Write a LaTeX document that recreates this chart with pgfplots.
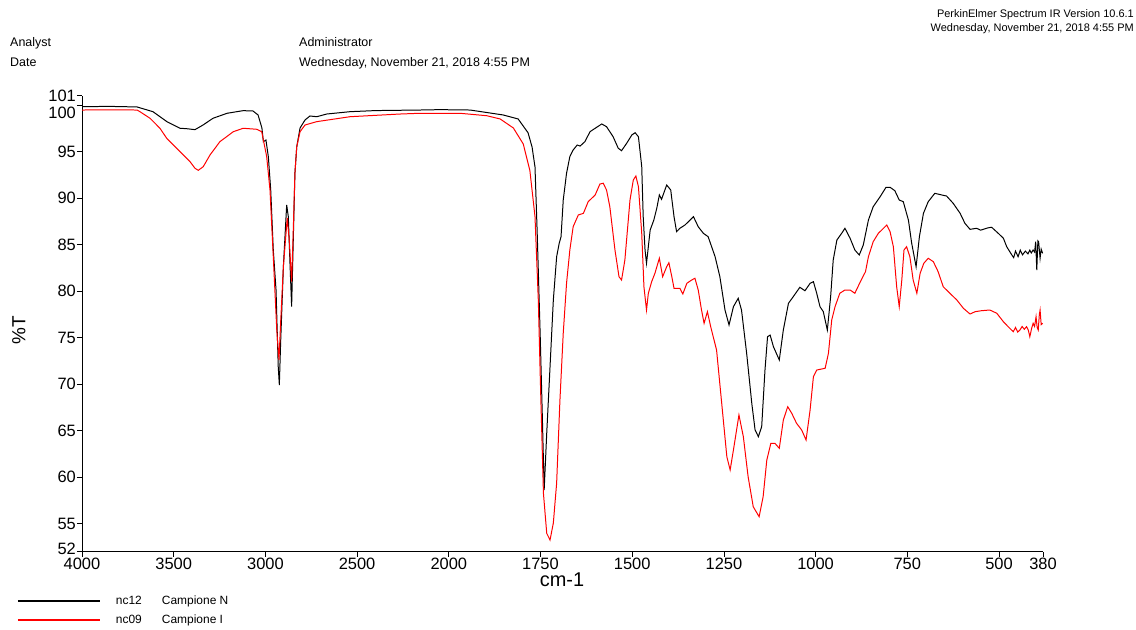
\documentclass[border=0pt]{standalone}
\usepackage{fontspec}
\setmainfont{Liberation Sans}
\usepackage{pgfplots}
\pgfplotsset{compat=1.18}

% wavenumber axis: 4000-2000 at one scale, 2000-380 expanded twice
\newcommand{\irx}{\thisrow{wn}>=2000 ? 4000-\thisrow{wn} : 6000-2*\thisrow{wn}}

\begin{document}
\begin{tikzpicture}[x=1bp,y=1bp]
\path (0,0) rectangle (1136,630);

% header
\node[anchor=base west,inner sep=0pt,font=\fontsize{12.5}{14}\selectfont] at (10,583.5) {Analyst};
\node[anchor=base west,inner sep=0pt,font=\fontsize{12.5}{14}\selectfont] at (10,563) {Date};
\node[anchor=base west,inner sep=0pt,font=\fontsize{12.5}{14}\selectfont] at (299,583.5) {Administrator};
\node[anchor=base west,inner sep=0pt,font=\fontsize{12.5}{14}\selectfont] at (299,563) {Wednesday, November 21, 2018 4:55 PM};
\node[anchor=base east,inner sep=0pt,font=\fontsize{11}{13}\selectfont] at (1134,612) {PerkinElmer Spectrum IR Version 10.6.1};
\node[anchor=base east,inner sep=0pt,font=\fontsize{11}{13}\selectfont] at (1134,598) {Wednesday, November 21, 2018 4:55 PM};

\begin{axis}[
  at={(82bp,78.3bp)}, anchor=south west,
  scale only axis, width=961bp, height=456bp,
  xmin=0, xmax=5240, ymin=52, ymax=101,
  axis lines=left, axis line style={-, line width=0.9pt},
  tick align=outside, major tick length=5bp,
  tick style={black, line width=0.8pt},
  xtick={0,500,1000,1500,2000,2500,3000,3500,4000,4500,5000,5240},
  xticklabels={4000,3500,3000,2500,2000,1750,1500,1250,1000,750,500,380},
  ytick={52,55,60,65,70,75,80,85,90,95,101},
  yticklabels={\raisebox{5.4bp}{52},55,60,65,70,75,80,85,90,95,101},
  extra y ticks={100}, extra y tick labels={100},
  extra y tick style={yticklabel style={yshift=-7.5bp}},
  ticklabel style={font=\fontsize{16.5}{18}\selectfont},
  xticklabel style={inner sep=1bp},
  yticklabel style={inner sep=1bp},
  xlabel={cm-1}, ylabel={\%T},
  every axis x label/.style={at={(axis description cs:0.4995,-0.062)}, anchor=center, font=\fontsize{20}{22}\selectfont},
  every axis y label/.style={at={(axis description cs:-0.0656,0.486)}, rotate=90, anchor=center, font=\fontsize{19}{21}\selectfont},
  legend style={at={(axis description cs:-0.071,-0.088)}, anchor=north west, draw=none, fill=none,
    font=\fontsize{12}{14}\selectfont, nodes={inner xsep=0pt, inner ysep=1.5bp}, column sep=15bp, row sep=6bp},
  legend cell align=left,
  legend image code/.code={\draw[#1, line width=2pt] (0bp,0bp) -- (82bp,0bp);},
]
\addplot[black, line width=1pt] table[x expr=\irx, y=T] {
wn T
4000 99.82
3850 99.85
3700 99.79
3613 99.28
3537 98.21
3466 97.50
3428 97.45
3384 97.35
3340 97.85
3286 98.57
3209 99.11
3122 99.39
3068 99.36
3040 98.93
3019 97.53
3011 96.06
2997 96.24
2984 94.45
2971 90.87
2957 84.42
2942 80.12
2930 71.88
2924 69.91
2917 74.43
2902 82.62
2884 89.26
2875 88.00
2866 83.02
2857 78.33
2848 85.49
2839 92.69
2829 95.52
2811 97.53
2784 98.39
2757 98.82
2720 98.74
2666 99.03
2539 99.28
2400 99.40
2157 99.46
2050 99.50
1942 99.46
1852 98.93
1811 98.50
1784 97.02
1773 95.49
1765 93.34
1759 86.25
1751 75.50
1745 66.51
1740 58.63
1733 64.75
1724 71.88
1715 79.05
1706 83.70
1699 85.14
1694 85.85
1688 89.79
1679 92.66
1670 94.45
1661 95.16
1650 95.70
1642 95.59
1629 96.06
1615 97.13
1597 97.60
1583 97.96
1570 97.67
1552 96.59
1538 95.35
1529 95.09
1515 95.89
1501 96.78
1492 97.02
1483 96.59
1474 93.37
1470 88.00
1465 84.42
1461 82.99
1451 86.57
1441 87.64
1433 88.90
1426 90.33
1420 89.87
1406 91.40
1395 90.87
1386 88.00
1379 86.39
1370 86.75
1356 87.11
1342 87.64
1333 88.00
1320 86.92
1306 86.21
1293 85.85
1274 83.70
1261 81.55
1247 77.97
1236 76.36
1224 78.33
1211 79.23
1202 77.97
1188 73.32
1174 67.95
1165 65.08
1156 64.36
1147 65.43
1138 71.52
1131 75.10
1124 75.28
1115 74.03
1099 72.60
1088 75.82
1074 78.69
1061 79.40
1043 80.41
1029 80.04
1015 80.84
1006 81.01
997 79.77
988 78.33
979 77.79
968 75.82
959 79.40
952 83.34
942 85.49
929 86.21
920 86.75
906 85.68
893 84.42
881 83.88
870 84.96
856 87.64
843 89.07
824 90.15
808 91.16
797 91.16
784 90.79
772 89.79
761 89.61
747 87.64
738 85.14
726 82.62
717 85.85
706 88.36
693 89.61
675 90.51
656 90.33
643 90.22
625 89.44
606 88.36
593 87.29
579 86.64
561 86.75
550 86.55
543 86.64
530 86.80
520 86.86
502 86.21
488 85.68
479 84.77
470 84.20
465 83.88
460 83.60
455 84.30
448 83.70
442 84.40
436 83.90
428 84.30
421 84.00
416 84.40
412 84.10
407 84.42
403 84.20
400 85.31
397 82.27
394 85.40
392 85.31
388 83.53
385 84.50
381 84.06
};
\addlegendentry{\makebox[46bp][l]{nc12}Campione N}
\addplot[red, line width=1pt] table[x expr=\irx, y=T] {
wn T
4000 99.46
3850 99.48
3700 99.46
3684 99.28
3629 98.57
3575 97.50
3538 96.42
3484 95.35
3438 94.45
3411 93.91
3384 93.20
3366 92.98
3339 93.37
3302 94.63
3248 96.06
3175 97.13
3121 97.50
3047 97.39
3020 97.13
3011 96.24
2993 94.45
2975 90.87
2957 83.70
2938 75.82
2926 72.60
2917 76.57
2902 82.62
2881 87.86
2870 85.49
2857 81.01
2848 86.57
2839 92.69
2829 95.52
2811 97.13
2784 97.85
2720 98.21
2539 98.74
2266 99.03
2157 99.11
1970 99.11
1897 98.85
1860 98.50
1824 97.53
1797 95.81
1779 92.96
1765 88.00
1756 79.05
1749 68.30
1742 58.27
1733 53.97
1724 53.26
1715 55.08
1706 59.38
1697 68.30
1688 75.47
1679 80.84
1670 84.42
1661 86.92
1647 88.18
1633 88.36
1620 89.61
1601 90.33
1588 91.51
1579 91.59
1570 90.87
1561 89.07
1547 84.42
1536 81.55
1529 81.19
1520 83.34
1506 89.79
1497 91.94
1490 92.37
1483 91.22
1474 86.21
1468 80.47
1461 77.97
1456 79.77
1447 81.01
1438 81.92
1426 83.53
1417 81.55
1406 82.62
1400 83.05
1392 81.55
1386 80.30
1370 80.30
1362 79.69
1351 80.84
1338 81.19
1329 81.38
1320 80.12
1311 77.97
1304 76.54
1295 77.79
1286 76.18
1270 73.67
1256 67.95
1242 62.21
1233 60.78
1224 62.93
1209 66.69
1197 64.36
1184 60.06
1170 56.83
1154 55.76
1143 57.91
1133 61.85
1122 63.65
1111 63.65
1099 63.11
1088 66.15
1076 67.58
1065 66.87
1052 65.80
1038 65.08
1026 64.00
1015 67.23
1006 70.80
997 71.52
974 71.71
965 73.32
956 76.90
947 78.33
934 79.77
920 80.12
906 80.12
893 79.77
878 81.01
864 82.09
856 83.70
843 85.31
829 86.21
815 86.75
806 87.11
797 86.39
788 84.77
779 80.47
772 78.33
765 81.19
759 84.42
752 84.77
743 83.70
734 81.19
724 79.77
715 81.92
705 82.99
693 83.53
679 83.16
666 82.09
652 80.47
634 79.77
615 79.05
597 78.15
579 77.54
565 77.79
547 77.90
525 77.97
506 77.62
488 76.71
475 76.18
468 75.90
461 75.64
455 76.10
449 75.60
443 75.82
437 76.20
431 75.90
425 76.18
420 75.80
416 75.10
411 76.00
407 76.54
403 76.20
399 77.25
396 76.10
393 75.82
390 77.50
388 77.97
385 76.40
381 76.54
};
\addlegendentry{\makebox[46bp][l]{nc09}Campione I}
\end{axis}
\end{tikzpicture}
\end{document}
